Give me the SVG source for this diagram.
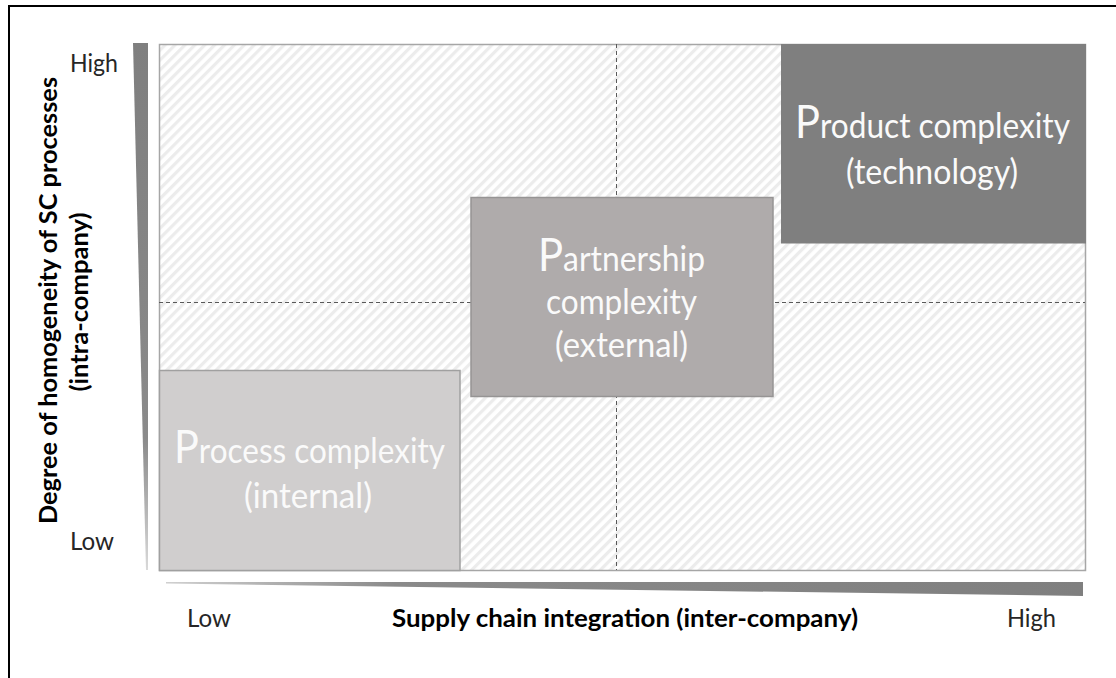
<svg xmlns="http://www.w3.org/2000/svg" width="1116" height="678" viewBox="0 0 1116 678">
<defs>
<pattern id="hatch" width="7" height="7" patternUnits="userSpaceOnUse" patternTransform="rotate(45)">
<rect width="7" height="7" fill="#ffffff"/>
<rect x="0" y="0" width="3.2" height="7" fill="#ececec"/>
</pattern>
<linearGradient id="gv" x1="0" y1="0" x2="0" y2="1">
<stop offset="0" stop-color="#7f7f7f"/>
<stop offset="0.75" stop-color="#8a8a8a"/>
<stop offset="1" stop-color="#d9d9d9"/>
</linearGradient>
<linearGradient id="gh" x1="0" y1="0" x2="1" y2="0">
<stop offset="0" stop-color="#d0d0d0"/>
<stop offset="0.25" stop-color="#8a8a8a"/>
<stop offset="1" stop-color="#7f7f7f"/>
</linearGradient>
<style>
.lbl{font-family:Lato,"Open Sans",sans-serif;fill:#262626;font-size:25px}
.ttl{font-family:Lato,"Open Sans",sans-serif;fill:#000;font-size:24px;font-weight:bold}
.bt{font-family:Lato,"Open Sans",sans-serif;fill:#fafafa;font-size:35px;text-anchor:middle}
.bp{font-size:46px}
.dash{stroke:#595959;stroke-width:1;stroke-dasharray:4 3;fill:none}
</style>
</defs>
<rect x="9" y="6" width="1200" height="800" fill="#ffffff" stroke="#000" stroke-width="2"/>
<g id="plot">
<rect x="159.5" y="44.5" width="926" height="526" fill="url(#hatch)" stroke="#a6a6a6" stroke-width="1.5"/>
</g>
<g id="connectors">
<line class="dash" x1="616.5" y1="44" x2="616.5" y2="570"/>
<line class="dash" x1="159" y1="302.5" x2="1085" y2="302.5"/>
</g>
<g id="axis-y">
<polygon points="133,43 148,43 148,570 146,570" fill="url(#gv)"/>
<text class="lbl" x="70" y="72" textLength="48" lengthAdjust="spacingAndGlyphs">High</text>
<text class="lbl" x="70" y="550" textLength="44" lengthAdjust="spacingAndGlyphs">Low</text>
<text class="ttl" transform="translate(57,300.5) rotate(-90)" text-anchor="middle" textLength="447" lengthAdjust="spacingAndGlyphs">Degree of homogeneity of SC processes</text>
<text class="ttl" transform="translate(88,302) rotate(-90)" text-anchor="middle" textLength="179" lengthAdjust="spacingAndGlyphs">(intra-company)</text>
</g>
<g id="axis-x">
<polygon points="166,582 1083,582 1083,596 166,583.5" fill="url(#gh)"/>
<text class="lbl" x="187" y="627" textLength="44" lengthAdjust="spacingAndGlyphs">Low</text>
<text class="lbl" x="1007" y="627" textLength="49" lengthAdjust="spacingAndGlyphs">High</text>
<text class="ttl" x="392" y="627" textLength="466" lengthAdjust="spacingAndGlyphs">Supply chain integration (inter-company)</text>
</g>
<g id="process">
<rect x="159.5" y="370.5" width="300.5" height="200" fill="#d0cece" stroke="#a0a0a0" stroke-width="1.5"/>
<text class="bt" x="309.5" y="463" textLength="271" lengthAdjust="spacingAndGlyphs"><tspan class="bp">P</tspan>rocess complexity</text>
<text class="bt" x="308" y="508" textLength="128" lengthAdjust="spacingAndGlyphs">(internal)</text>
</g>
<g id="partnership">
<rect x="471" y="197.5" width="302" height="199" fill="#afabab" stroke="#969494" stroke-width="1.5"/>
<text class="bt" x="621.5" y="271" textLength="167" lengthAdjust="spacingAndGlyphs"><tspan class="bp">P</tspan>artnership</text>
<text class="bt" x="621.5" y="314" textLength="151" lengthAdjust="spacingAndGlyphs">complexity</text>
<text class="bt" x="621.5" y="357" textLength="133" lengthAdjust="spacingAndGlyphs">(external)</text>
</g>
<g id="product">
<rect x="781" y="44" width="305" height="199.5" fill="#7f7f7f"/>
<text class="bt" x="932.5" y="138" textLength="275" lengthAdjust="spacingAndGlyphs"><tspan class="bp">P</tspan>roduct complexity</text>
<text class="bt" x="932" y="184" textLength="172" lengthAdjust="spacingAndGlyphs">(technology)</text>
</g>
</svg>
